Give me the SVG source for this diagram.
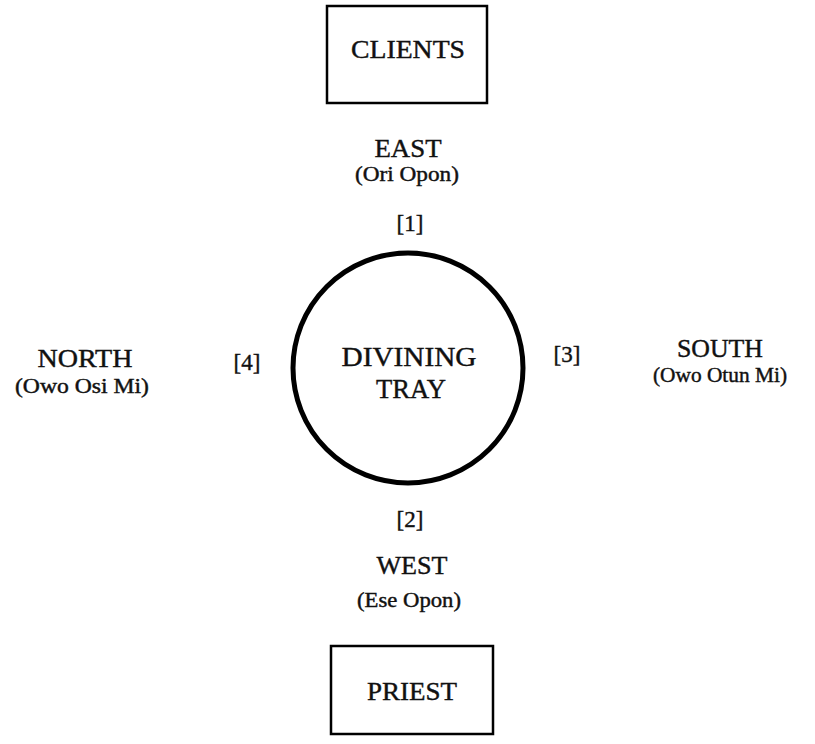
<svg xmlns="http://www.w3.org/2000/svg" width="815" height="744" viewBox="0 0 815 744">
<style>
.box{fill:#fff;stroke:#000;stroke-width:2.5}
.tray{fill:#fff;stroke:#000;stroke-width:5}
text{font-family:"Liberation Serif","Times New Roman",serif;fill:#111;stroke:#111;stroke-width:0.4;text-anchor:middle}
.t{font-size:25px}
.s{font-size:20px}
.n{font-size:23px}
.c{font-size:27px}
</style>
<rect width="815" height="744" fill="#fff"/>
<g id="clients">
<rect class="box" x="327" y="6" width="160" height="97"/>
<text class="t" x="408" y="58" textLength="114" lengthAdjust="spacingAndGlyphs">CLIENTS</text>
</g>
<g id="east">
<text class="t" x="408" y="157" textLength="67" lengthAdjust="spacingAndGlyphs">EAST</text>
<text class="s" x="407" y="181" textLength="104" lengthAdjust="spacingAndGlyphs">(Ori Opon)</text>
<text class="n" x="410" y="231">[1]</text>
</g>
<g id="tray">
<circle class="tray" cx="408" cy="368" r="115"/>
<text class="c" x="409" y="366" textLength="135" lengthAdjust="spacingAndGlyphs">DIVINING</text>
<text class="c" x="411" y="398" textLength="70" lengthAdjust="spacingAndGlyphs">TRAY</text>
</g>
<g id="north">
<text class="t" x="85" y="367" textLength="95" lengthAdjust="spacingAndGlyphs">NORTH</text>
<text class="s" x="82" y="393" textLength="134" lengthAdjust="spacingAndGlyphs">(Owo Osi Mi)</text>
<text class="n" x="247" y="370">[4]</text>
</g>
<g id="south">
<text class="n" x="567" y="362">[3]</text>
<text class="t" x="720" y="357" textLength="86" lengthAdjust="spacingAndGlyphs">SOUTH</text>
<text class="s" x="720" y="382" textLength="134" lengthAdjust="spacingAndGlyphs">(Owo Otun Mi)</text>
</g>
<g id="west">
<text class="n" x="410" y="527">[2]</text>
<text class="t" x="412" y="574" textLength="71" lengthAdjust="spacingAndGlyphs">WEST</text>
<text class="s" x="409" y="607" textLength="104" lengthAdjust="spacingAndGlyphs">(Ese Opon)</text>
</g>
<g id="priest">
<rect class="box" x="331" y="646" width="162" height="88"/>
<text class="t" x="412" y="700" textLength="90" lengthAdjust="spacingAndGlyphs">PRIEST</text>
</g>
</svg>
